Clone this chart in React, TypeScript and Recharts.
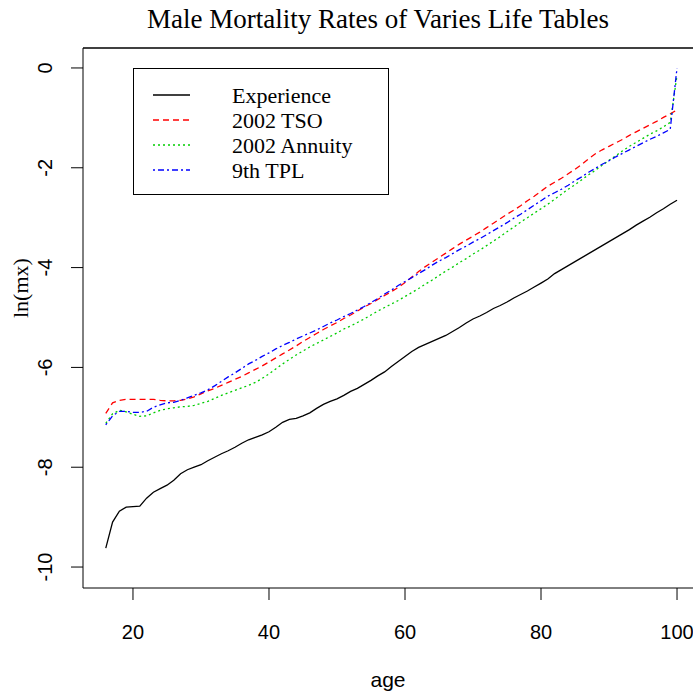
import React from "react";
import { LineChart, Line, XAxis, YAxis, Legend, ReferenceLine } from "recharts";

// ages 16..100
const AGES = [
  16, 17, 18, 19, 20, 21, 22, 23, 24, 25, 26, 27, 28, 29, 30, 31, 32, 33, 34, 35,
  36, 37, 38, 39, 40, 41, 42, 43, 44, 45, 46, 47, 48, 49, 50, 51, 52, 53, 54, 55,
  56, 57, 58, 59, 60, 61, 62, 63, 64, 65, 66, 67, 68, 69, 70, 71, 72, 73, 74, 75,
  76, 77, 78, 79, 80, 81, 82, 83, 84, 85, 86, 87, 88, 89, 90, 91, 92, 93, 94, 95,
  96, 97, 98, 99, 100,
];

const EXPERIENCE = [
  -9.62, -9.1, -8.88, -8.8, -8.79, -8.78, -8.62, -8.5, -8.43, -8.36, -8.26, -8.13, -8.05, -8.0, -7.95, -7.87, -7.8, -7.73, -7.67, -7.6,
  -7.52, -7.45, -7.4, -7.35, -7.29, -7.2, -7.1, -7.04, -7.02, -6.97, -6.91, -6.82, -6.74, -6.68, -6.63, -6.56, -6.48, -6.42, -6.34, -6.26,
  -6.17, -6.09, -5.98, -5.88, -5.78, -5.68, -5.6, -5.54, -5.48, -5.42, -5.36, -5.28, -5.2, -5.11, -5.03, -4.97, -4.9, -4.82, -4.76, -4.69,
  -4.61, -4.54, -4.47, -4.39, -4.31, -4.23, -4.12, -4.04, -3.96, -3.88, -3.8, -3.72, -3.64, -3.56, -3.48, -3.4, -3.32, -3.24, -3.15, -3.07,
  -2.99, -2.9, -2.82, -2.73, -2.65,
];

const TSO_2002 = [
  -6.92, -6.71, -6.66, -6.64, -6.64, -6.64, -6.64, -6.64, -6.66, -6.67, -6.67, -6.66, -6.63, -6.59, -6.53, -6.47, -6.42, -6.36, -6.3, -6.24,
  -6.18, -6.11, -6.04, -5.97, -5.89, -5.81, -5.73, -5.65, -5.57, -5.48, -5.4, -5.32, -5.24, -5.17, -5.1, -5.02, -4.95, -4.87, -4.79, -4.72,
  -4.64, -4.56, -4.48, -4.4, -4.3, -4.19, -4.08, -3.98, -3.89, -3.8, -3.71, -3.62, -3.53, -3.45, -3.37, -3.29, -3.2, -3.11, -3.02, -2.93,
  -2.85, -2.76, -2.66, -2.57, -2.47, -2.37, -2.29, -2.21, -2.12, -2.03, -1.93, -1.82, -1.72, -1.64, -1.57, -1.5, -1.43, -1.35, -1.28, -1.21,
  -1.14, -1.07, -0.99, -0.92, -0.84,
];

const ANNUITY_2002 = [
  -7.12, -6.93, -6.86, -6.89, -6.94, -6.98, -6.97, -6.91, -6.86, -6.83, -6.81, -6.79, -6.78, -6.76, -6.72, -6.68, -6.62, -6.56, -6.51, -6.46,
  -6.41, -6.36, -6.3, -6.22, -6.13, -6.03, -5.93, -5.84, -5.75, -5.67, -5.59, -5.52, -5.45, -5.38, -5.31, -5.23, -5.17, -5.1, -5.03, -4.95,
  -4.87, -4.8, -4.73, -4.66, -4.58, -4.5, -4.42, -4.33, -4.25, -4.16, -4.07, -3.99, -3.9, -3.82, -3.73, -3.65, -3.56, -3.47, -3.38, -3.28,
  -3.19, -3.09, -3.0, -2.91, -2.82, -2.73, -2.63, -2.53, -2.43, -2.34, -2.24, -2.14, -2.05, -1.95, -1.85, -1.76, -1.66, -1.57, -1.49, -1.41,
  -1.33, -1.26, -1.18, -1.09, -0.15,
];

const TPL_9TH = [
  -7.15, -6.97, -6.88, -6.88, -6.9, -6.9, -6.88, -6.8, -6.75, -6.71, -6.7, -6.66, -6.61, -6.56, -6.51, -6.45, -6.37, -6.28, -6.19, -6.11,
  -6.02, -5.93, -5.86, -5.78, -5.71, -5.63, -5.56, -5.5, -5.43, -5.37, -5.31, -5.25, -5.18, -5.11, -5.05, -4.98, -4.92, -4.85, -4.78, -4.7,
  -4.62, -4.53, -4.45, -4.36, -4.28, -4.2, -4.12, -4.04, -3.95, -3.87, -3.8, -3.72, -3.64, -3.57, -3.49, -3.42, -3.34, -3.26, -3.18, -3.1,
  -3.01, -2.93, -2.84, -2.75, -2.66, -2.57, -2.5, -2.43, -2.35, -2.26, -2.18, -2.09, -2.01, -1.93, -1.86, -1.78, -1.71, -1.64, -1.57, -1.5,
  -1.43, -1.37, -1.3, -1.23, 0.0,
];

const X_TICKS = [20, 40, 60, 80, 100];
const Y_TICKS = [-10, -8, -6, -4, -2, 0];
const X_DOMAIN = [12.65, 102.35];
const Y_DOMAIN = [-10.42, 0.4];

const SERIES = [
  { key: "experience", name: "Experience", color: "#000000", dash: undefined },
  { key: "tso", name: "2002 TSO", color: "#FF0000", dash: "6 4" },
  { key: "annuity", name: "2002 Annuity", color: "#00CD00", dash: "2 3" },
  { key: "tpl", name: "9th TPL", color: "#0000FF", dash: "2 3 6 3" },
];

const data = AGES.map((age, i) => ({
  age,
  experience: EXPERIENCE[i],
  tso: TSO_2002[i],
  annuity: ANNUITY_2002[i],
  tpl: TPL_9TH[i],
}));

const SANS = "'Liberation Sans Narrow', 'Liberation Sans', Arial, sans-serif";
const SERIF = "'Liberation Serif', 'Times New Roman', serif";

function YTick(props: any) {
  const { x, y, payload } = props;
  return (
    <text
      x={x}
      y={y}
      transform={`rotate(-90, ${x}, ${y})`}
      textAnchor="middle"
      fontFamily={SANS}
      fontSize={20}
      fill="#000"
    >
      {payload.value}
    </text>
  );
}

function LegendBox() {
  return (
    <svg width={256} height={127}>
      <rect x={0.5} y={0.5} width={255} height={126} fill="#fff" stroke="#000" strokeWidth={1} />
      {SERIES.map((s, i) => (
        <g key={s.key}>
          <line
            x1={20}
            x2={57}
            y1={27 + 25 * i}
            y2={27 + 25 * i}
            stroke={s.color}
            strokeWidth={1.3}
            strokeDasharray={s.dash}
          />
          <text x={99} y={27 + 25 * i} dy="0.35em" fontFamily={SERIF} fontSize={22} fill="#000">
            {s.name}
          </text>
        </g>
      ))}
    </svg>
  );
}

export default function App() {
  return (
    <div style={{ position: "absolute", left: 0, top: 0, width: 693, height: 693, background: "#fff" }}>
      <div
        style={{
          position: "absolute",
          left: 0,
          top: 4,
          width: 756,
          textAlign: "center",
          fontFamily: SERIF,
          fontSize: 27,
          color: "#000",
          whiteSpace: "nowrap",
        }}
      >
        Male Mortality Rates of Varies Life Tables
      </div>
      <LineChart width={693} height={693} data={data} margin={{ top: 48, right: 0, bottom: 0, left: 0 }}>
        <XAxis
          dataKey="age"
          type="number"
          domain={X_DOMAIN}
          allowDataOverflow
          ticks={X_TICKS}
          tickSize={12}
          tickMargin={25}
          height={105}
          stroke="#000"
          tick={{ fontFamily: SANS, fontSize: 20, fill: "#000" }}
          label={{ value: "age", position: "insideBottom", offset: 6, fontFamily: SANS, fontSize: 21, fill: "#000" }}
        />
        <YAxis
          type="number"
          domain={Y_DOMAIN}
          allowDataOverflow
          ticks={Y_TICKS}
          width={83}
          tickSize={12}
          tickMargin={19}
          stroke="#000"
          tick={<YTick />}
          label={{ value: "ln(mx)", angle: -90, position: "insideLeft", offset: 20, fontFamily: SERIF, fontSize: 22, fill: "#000" }}
        />
        <ReferenceLine y={Y_DOMAIN[1]} stroke="#000" strokeWidth={1.5} ifOverflow="visible" />
        <Legend
          layout="horizontal"
          verticalAlign="middle"
          align="center"
          content={() => <LegendBox />}
          wrapperStyle={{ position: "absolute", left: 133, top: 68, width: 256, height: 127 }}
        />
        {SERIES.map((s) => (
          <Line
            key={s.key}
            dataKey={s.key}
            name={s.name}
            stroke={s.color}
            strokeWidth={1.3}
            strokeDasharray={s.dash}
            dot={false}
            isAnimationActive={false}
          />
        ))}
      </LineChart>
    </div>
  );
}
